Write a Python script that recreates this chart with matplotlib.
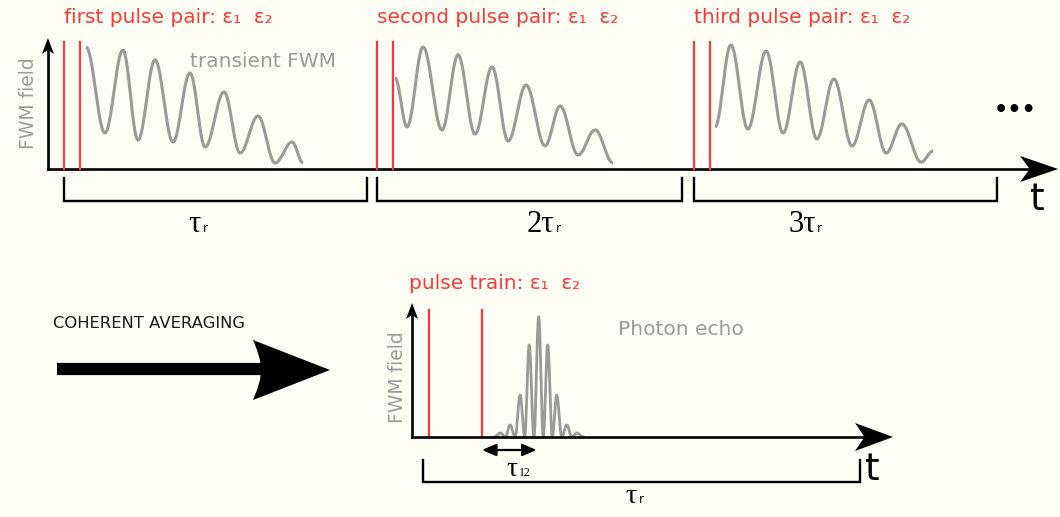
import numpy as np
import matplotlib.pyplot as plt
from matplotlib.patches import Polygon

plt.rcParams['font.family'] = ['DejaVu Sans']

W, H = 1060, 517
BG = '#fefef5'
RED = '#f23b3b'
GRAY = '#9a9a9a'
SERIF = ['Liberation Serif', 'DejaVu Serif']

# ---- top panel data: time in units of tau_r, field scaled to axis height ----
PAIR_STARTS = [0.0, 0.994, 2.0]
PAIR_DELAY = 0.05
PULSE_HEIGHT = 0.97
PAIR_TITLES = ['first pulse pair: ε₁  ε₂', 'second pulse pair: ε₁  ε₂',
               'third pulse pair: ε₁  ε₂']

# turning points of the transient FWM after each pair (time after pair, field)
FWM1_T = [0.070, 0.130, 0.187, 0.235, 0.289, 0.346, 0.400, 0.448, 0.508, 0.559,
          0.616, 0.670, 0.724, 0.759]
FWM1_F = [0.931, 0.275, 0.908, 0.221, 0.832, 0.206, 0.733, 0.168, 0.588, 0.122,
          0.405, 0.046, 0.206, 0.046]
FWM2_T = [0.057, 0.095, 0.146, 0.206, 0.257, 0.311, 0.365, 0.416, 0.473, 0.533,
          0.581, 0.638, 0.692, 0.749]
FWM2_F = [0.695, 0.321, 0.931, 0.298, 0.870, 0.267, 0.779, 0.214, 0.641, 0.176,
          0.481, 0.107, 0.298, 0.046]
FWM3_T = [0.067, 0.117, 0.171, 0.229, 0.283, 0.337, 0.390, 0.444, 0.502, 0.556,
          0.610, 0.660, 0.721, 0.759]
FWM3_F = [0.321, 0.947, 0.305, 0.901, 0.275, 0.817, 0.229, 0.687, 0.176, 0.527,
          0.122, 0.344, 0.053, 0.137]

BRACKET_LEN = 0.962
BRACKET_PREFIX = ['τ', '2τ', '3τ']
BRACKET_LABEL_T = [0.435, 1.556, 2.387]

# ---- bottom panel data: time in units of tau_12 ----
TRAIN_PULSES = [0.0, 1.0]
TRAIN_HEIGHT = 0.948
ECHO_PEAK_T = [1.35, 1.53, 1.72, 1.89, 2.07, 2.24, 2.41, 2.60, 2.79]
ECHO_PEAK_F = [0.03, 0.09, 0.313, 0.687, 0.898, 0.687, 0.313, 0.09, 0.03]
ECHO_T12_END = 2.03
TAU_R_SPAN = [-0.113, 8.13]


def smooth_through(ts, fs, n=30):
    # cosine segments between turning points
    xs, ys = [], []
    for i in range(len(ts) - 1):
        s = np.linspace(0, 1, n)
        xs.append(ts[i] + (ts[i + 1] - ts[i]) * s)
        ys.append(fs[i] + (fs[i + 1] - fs[i]) * (1 - np.cos(np.pi * s)) / 2)
    return np.concatenate(xs), np.concatenate(ys)


fig = plt.figure(figsize=(W / 100, H / 100), dpi=100, facecolor=BG)


def panel(ox, oy, sx, sy):
    ax = fig.add_axes([0, 0, 1, 1])
    ax.set_xlim(-ox / sx, (W - ox) / sx)
    ax.set_ylim((oy - H) / sy, oy / sy)
    ax.axis('off')
    ax.patch.set_alpha(0)
    ax.sx, ax.sy = sx, sy
    return ax


def head(ax, tx, ty, direction, L, Wd, notch=0.25):
    # stealth arrow head, sizes in pixels
    if direction == 'right':
        pts = [(0, 0), (-L, Wd), (-L * (1 - notch), 0), (-L, -Wd)]
    else:
        pts = [(0, 0), (Wd, -L), (0, -L * (1 - notch)), (-Wd, -L)]
    poly = [(tx + dx / ax.sx, ty + dy / ax.sy) for dx, dy in pts]
    ax.add_patch(Polygon(poly, closed=True, color='black', lw=0, zorder=5))


def bracket(ax, x0, x1, y0, y1, lw=1.7):
    ax.plot([x0, x0, x1, x1], [y0, y1, y1, y0], color='black', lw=lw,
            solid_joinstyle='miter')


def tau_label(ax, x, y, main, sub, size, subsize, subfamily):
    ax.text(x, y, main, fontsize=size, family=SERIF, ha='right', va='baseline')
    ax.annotate(sub, xy=(x, y), xytext=(1, 0), textcoords='offset points',
                fontsize=subsize, family=subfamily, ha='left', va='baseline')


# ================= top panel =================
top = panel(64, 169, 315, 131)
ax_x = -0.051
top.plot([ax_x, 3.156 - 30 / 315], [0, 0], color='black', lw=1.9)
head(top, 3.156, 0, 'right', 38, 13)
top.plot([ax_x, ax_x], [0, 1 - 12 / 131], color='black', lw=1.9)
head(top, ax_x, 1.0, 'up', 16, 6)

waves = [(FWM1_T, FWM1_F), (FWM2_T, FWM2_F), (FWM3_T, FWM3_F)]
for k, start in enumerate(PAIR_STARTS):
    for p in (start, start + PAIR_DELAY):
        top.plot([p, p], [0, PULSE_HEIGHT], color=RED, lw=1.6)
    wt, wf = smooth_through(*waves[k])
    top.plot(start + wt, wf, color=GRAY, lw=2.2, solid_capstyle='butt')
    top.text(start, 1.16, PAIR_TITLES[k], color=RED, fontsize=14.5,
             ha='left', va='center')
    bracket(top, start, k + BRACKET_LEN, -0.069, -0.244)
    tau_label(top, BRACKET_LABEL_T[k], -0.481, BRACKET_PREFIX[k], 'r',
              22, 8.5, 'DejaVu Sans')

top.text(0.40, 0.817, 'transient FWM', color=GRAY, fontsize=14.5,
         ha='left', va='center')
top.text(-0.114, 0.50, 'FWM field', color=GRAY, fontsize=13.5, rotation=90,
         ha='center', va='center')
top.text(3.019, 0.45, '•••', fontsize=16, fontweight='bold', ha='center',
         va='center')
top.text(3.089, -0.237, 't', fontsize=27, ha='center', va='center')

# ================= coherent averaging arrow =================
pix = panel(0, 517, 1, 1)
pix.text(53, 517 - 323, 'COHERENT AVERAGING', fontsize=11.8, color='#1a1a1a',
         ha='left', va='center')
pix.plot([57, 262], [517 - 369, 517 - 369], color='black', lw=8.8,
         solid_capstyle='butt')
arrow_pts = [(330, 370), (253, 340), (257, 350), (260, 360), (261, 370),
             (260, 380), (257, 390), (253, 400)]
pix.add_patch(Polygon([(x, 517 - y) for x, y in arrow_pts], closed=True,
                      color='black', lw=0))

# ================= bottom panel =================
bot = panel(429, 437, 53, 134)
bx = -0.32

for p in TRAIN_PULSES:
    bot.plot([p, p], [0, TRAIN_HEIGHT], color=RED, lw=1.6)

et, ef = [ECHO_PEAK_T[0] - 0.12], [0.0]
for i, (pt, pf) in enumerate(zip(ECHO_PEAK_T, ECHO_PEAK_F)):
    if i > 0:
        et.append((pt + ECHO_PEAK_T[i - 1]) / 2)
        ef.append(0.0)
    et.append(pt)
    ef.append(pf)
et += [ECHO_PEAK_T[-1] + 0.12]
ef += [0.0]
ex, ey = smooth_through(et, ef, n=20)
bot.plot(ex, ey, color=GRAY, lw=2.0, zorder=1)

bot.plot([bx, 8.755 - 30 / 53], [0, 0], color='black', lw=1.9, zorder=3)
head(bot, 8.755, 0, 'right', 38, 14)
bot.plot([bx, bx], [0, 1 - 12 / 134], color='black', lw=1.9)
head(bot, bx, 1.0, 'up', 16, 6)

bot.text(-0.377, 1.149, 'pulse train: ε₁  ε₂', color=RED, fontsize=14.5,
         ha='left', va='center')
bot.text(3.57, 0.80, 'Photon echo', color=GRAY, fontsize=14.5,
         ha='left', va='center')
bot.text(-0.585, 0.448, 'FWM field', color=GRAY, fontsize=13.5, rotation=90,
         ha='center', va='center')

bot.annotate('', xy=(ECHO_T12_END, -0.097), xytext=(TRAIN_PULSES[1], -0.097),
             arrowprops=dict(arrowstyle='<|-|>,head_length=0.7,head_width=0.3',
                             mutation_scale=12, color='black', lw=1.6,
                             shrinkA=0, shrinkB=0))
tau_label(bot, 1.679, -0.291, 'τ', '12', 20, 8.5, SERIF)
bracket(bot, TAU_R_SPAN[0], TAU_R_SPAN[1], -0.172, -0.336)
tau_label(bot, 3.925, -0.493, 'τ', 'r', 20, 8.5, 'DejaVu Sans')
bot.text(8.36, -0.246, 't', fontsize=27, ha='center', va='center')

fig.savefig('out.png', dpi=100, facecolor=BG)
